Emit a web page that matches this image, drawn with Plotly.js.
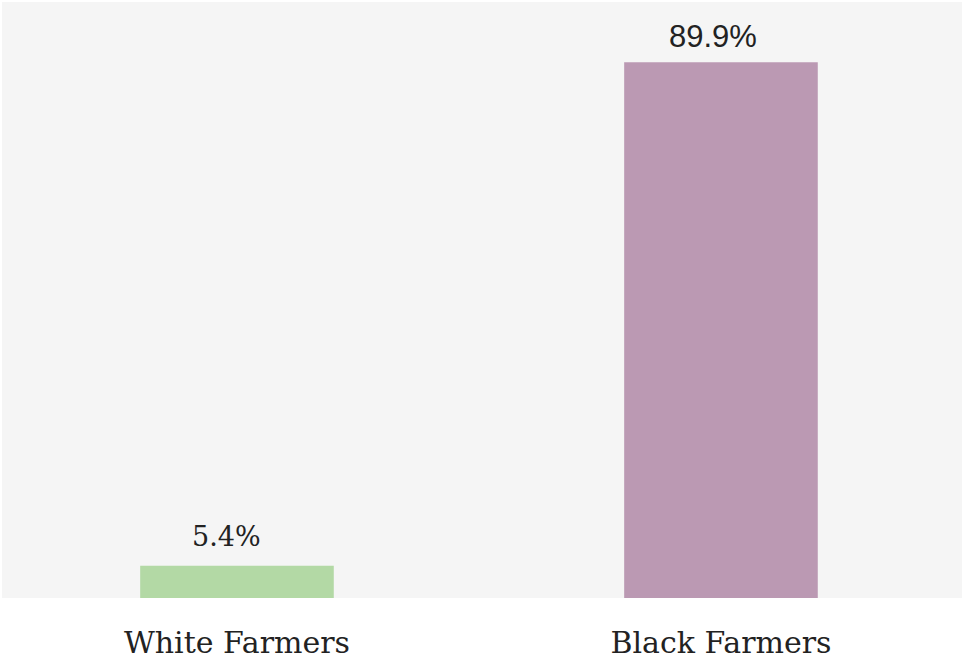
<!DOCTYPE html>
<html><head><meta charset="utf-8">
<script src="https://cdn.plot.ly/plotly-3.0.1.min.js"></script>
<style>html,body{margin:0;padding:0;background:#fff;}#chart{width:962px;height:662px;}</style>
</head><body><div id="chart"></div>
<script>
const categories = ["White Farmers", "Black Farmers"];
const values = [5.4, 89.9];
const valueLabels = ["5.4%", "89.9%"];
const barColors = ["#b3d9a5", "#bb99b3"];
const labelFonts = ["DejaVu Serif", "Liberation Sans"];
const labelSizes = [27, 31];
const labelShiftsY = [12, 6];
const labelShiftsX = [-10, -8];

const trace = {
  type: "bar",
  x: categories,
  y: values,
  width: 0.4,
  marker: {color: barColors, line: {width: 0}},
  hoverinfo: "none"
};
const annotations = categories.map((c, i) => ({
  x: c, y: values[i], xref: "x", yref: "y",
  text: valueLabels[i], showarrow: false,
  xanchor: "center", yanchor: "bottom", yshift: labelShiftsY[i], xshift: labelShiftsX[i],
  font: {family: labelFonts[i], size: labelSizes[i], color: "#222"}
}));
const layout = {
  width: 962, height: 662,
  margin: {l: 2, r: 0, t: 2, b: 64},
  paper_bgcolor: "#ffffff",
  plot_bgcolor: "#f5f5f5",
  showlegend: false,
  annotations: annotations,
  xaxis: {range: [-0.4855, 1.498], showgrid: false, zeroline: false, showline: false,
          ticks: "", tickfont: {family: "DejaVu Serif", size: 30, color: "#222"}, ticklabelstandoff: 24},
  yaxis: {range: [0, 100], showgrid: false, zeroline: false, showticklabels: false, ticks: ""}
};
Plotly.newPlot("chart", [trace], layout, {displayModeBar: false, staticPlot: true});
</script></body></html>
